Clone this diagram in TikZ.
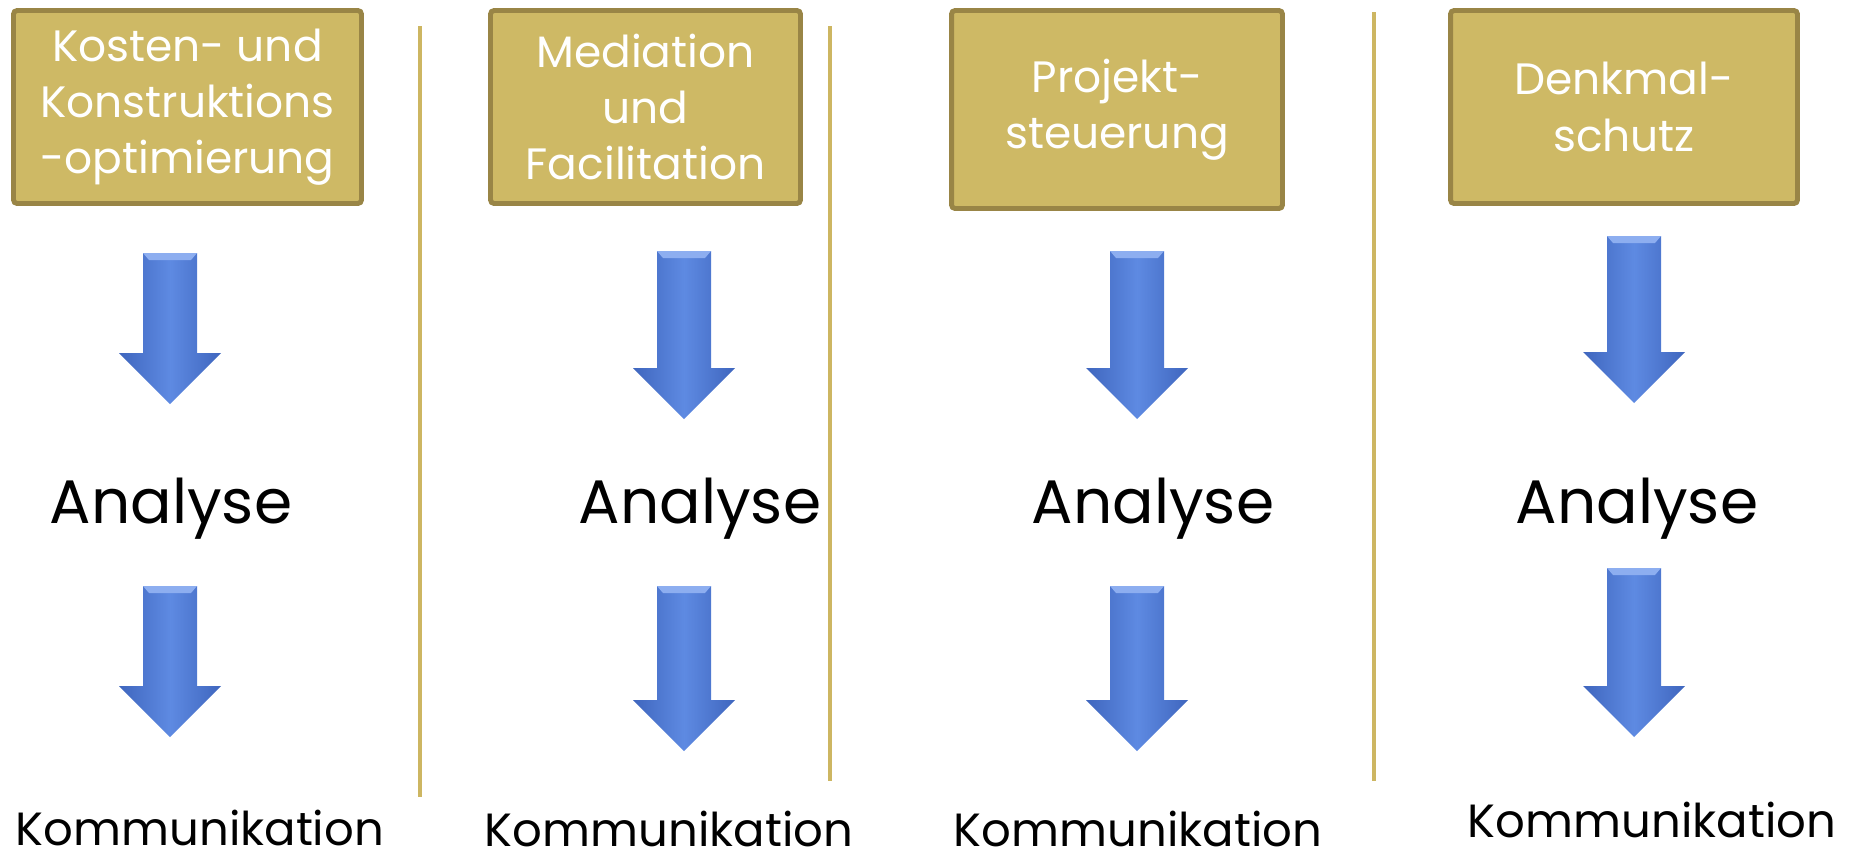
\documentclass[tikz,border=0pt]{standalone}
\usepackage{fontspec}
\setmainfont{Poppins}
\usepackage{xcolor}
\usepackage{tikz}

\definecolor{gold}{HTML}{CEB965}
\definecolor{golddunkel}{HTML}{998546}
\definecolor{trennlinie}{HTML}{CDB662}
\definecolor{pfeilblau}{HTML}{5E8AE2}
\definecolor{pfeildunkel}{HTML}{3F66BE}
\definecolor{pfeilhell}{HTML}{8DAEF0}

% Blockpfeil: Mitte x, oberes Ende, Spitze
\newcommand{\blockpfeil}[3]{%
  \shade[left color=pfeildunkel, right color=pfeildunkel, middle color=pfeilblau]
    (#1-27,#2) -- (#1+27,#2) -- (#1+27,#3-51) -- (#1+51,#3-51) -- (#1,#3)
    -- (#1-51,#3-51) -- (#1-27,#3-51) -- cycle;
  \fill[pfeilhell] (#1-27,#2) -- (#1+27,#2) -- (#1+21,#2+7) -- (#1-21,#2+7) -- cycle;
}

\begin{document}
\begin{tikzpicture}[x=0.02cm, y=-0.02cm]
      % Stile
      \tikzstyle{titel}=[draw=golddunkel, line width=2.8pt, fill=gold, rounded corners=2pt, text=white, align=center, font=\fontsize{25}{32}\selectfont, inner sep=0pt]
      \tikzstyle{analyse}=[anchor=base, inner sep=0pt, font=\fontsize{35}{40}\selectfont]
      \tikzstyle{komm}=[anchor=base, inner sep=0pt, font=\fontsize{26.5}{30}\selectfont]
      \tikzstyle{trenner}=[draw=trennlinie, line width=2.2pt]

      \useasboundingbox (0,0) rectangle (1849,860);

      % Trennlinien
      \draw[trenner] (420,26) -- (420,797);
      \draw[trenner] (830,26) -- (830,781);
      \draw[trenner] (1374,12) -- (1374,781);

      % Themenfelder
      \node[titel, minimum width=6.96cm, minimum height=3.86cm] (kosten) at (187.5,107) {Kosten- und\\Konstruktions\\-optimierung};
      \node[titel, minimum width=6.2cm, minimum height=3.86cm] (mediation) at (645.5,107) {Mediation\\und\\Facilitation};
      \node[titel, minimum width=6.62cm, minimum height=3.96cm] (projekt) at (1117,109.5) {Projekt-\\steuerung};
      \node[titel, minimum width=6.94cm, minimum height=3.86cm] (denkmal) at (1624,107) {Denkmal-\\schutz};

      % Analyse
      \node[analyse] (analyseA) at (171,523) {Analyse};
      \node[analyse] (analyseB) at (700,523) {Analyse};
      \node[analyse] (analyseC) at (1153,523) {Analyse};
      \node[analyse] (analyseD) at (1637,523) {Analyse};

      % Kommunikation
      \node[komm] (kommA) at (200,845) {Kommunikation};
      \node[komm] (kommB) at (669,846) {Kommunikation};
      \node[komm] (kommC) at (1138,846) {Kommunikation};
      \node[komm] (kommD) at (1652,837) {Kommunikation};

      % Pfeile
      \blockpfeil{170}{253}{404}
      \blockpfeil{170}{586}{737}
      \blockpfeil{684}{251}{419}
      \blockpfeil{684}{586}{751}
      \blockpfeil{1137}{251}{419}
      \blockpfeil{1137}{586}{751}
      \blockpfeil{1634}{236}{403}
      \blockpfeil{1634}{568}{737}
    \end{tikzpicture}
\end{document}
